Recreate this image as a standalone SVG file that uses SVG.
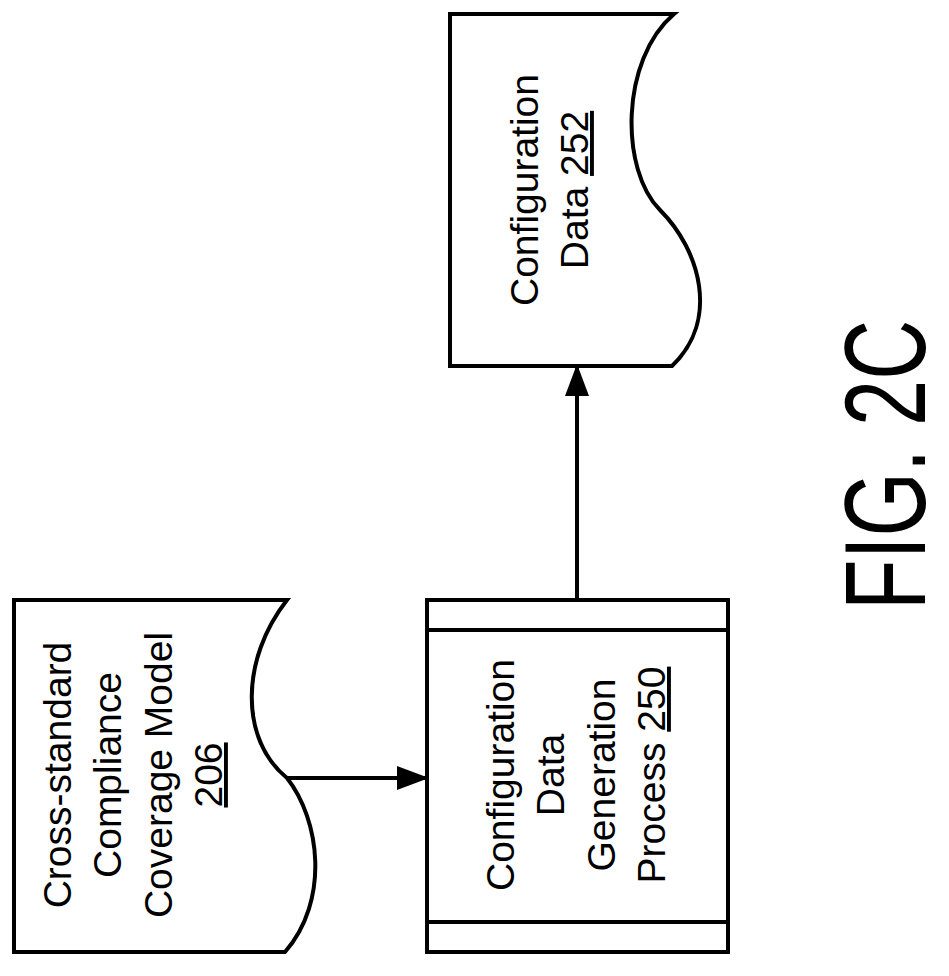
<svg xmlns="http://www.w3.org/2000/svg" width="949" height="976" viewBox="0 0 949 976">
<style>
.s{fill:#fff;stroke:#000;stroke-width:4}
.t{font-family:"Liberation Sans",Arial,sans-serif;font-size:39px;fill:#000;text-anchor:middle}
.c{stroke:#000;stroke-width:4;fill:none}
</style>
<defs>
<marker id="ah" markerWidth="8" markerHeight="6" refX="7" refY="3" orient="auto" markerUnits="strokeWidth">
<path d="M0,0 L8,3 L0,6 Z" fill="#000"/>
</marker>
</defs>
<rect width="949" height="976" fill="#fff"/>
<g id="n206">
<path class="s" d="M14,600 L287,600 C240,660 240,740 287,778 C320,820 330,900 285,952 L14,952 Z"/>
<g transform="translate(0,775) rotate(-90)">
<text class="t" x="0" y="71">Cross-standard</text>
<text class="t" x="0" y="121">Compliance</text>
<text class="t" x="0" y="172">Coverage Model</text>
<text class="t" x="0" y="222" text-decoration="underline">206</text>
</g>
</g>
<g id="n250">
<rect class="s" x="427" y="600" width="301" height="352"/>
<line class="c" x1="427" y1="630" x2="728" y2="630"/>
<line class="c" x1="427" y1="922" x2="728" y2="922"/>
<g transform="translate(0,775) rotate(-90)">
<text class="t" x="0" y="514">Configuration</text>
<text class="t" x="0" y="564">Data</text>
<text class="t" x="0" y="615">Generation</text>
<text class="t" x="0" y="665">Process <tspan text-decoration="underline">250</tspan></text>
</g>
</g>
<g id="n252">
<path class="s" d="M450,14 L674,14 C620,60 620,170 660,210 C700,250 720,320 672,366 L450,366 Z"/>
<g transform="translate(0,190) rotate(-90)">
<text class="t" x="0" y="538">Configuration</text>
<text class="t" x="0" y="588">Data <tspan text-decoration="underline">252</tspan></text>
</g>
</g>
<g id="connectors">
<line class="c" x1="287" y1="778" x2="425" y2="778" marker-end="url(#ah)"/>
<line class="c" x1="577" y1="600" x2="577" y2="368" marker-end="url(#ah)"/>
</g>
<g id="fig">
<text transform="translate(925,465) rotate(-90)" font-family="Liberation Sans,Arial,sans-serif" font-size="115" text-anchor="middle" textLength="290" lengthAdjust="spacingAndGlyphs">FIG. 2C</text>
</g>
</svg>
